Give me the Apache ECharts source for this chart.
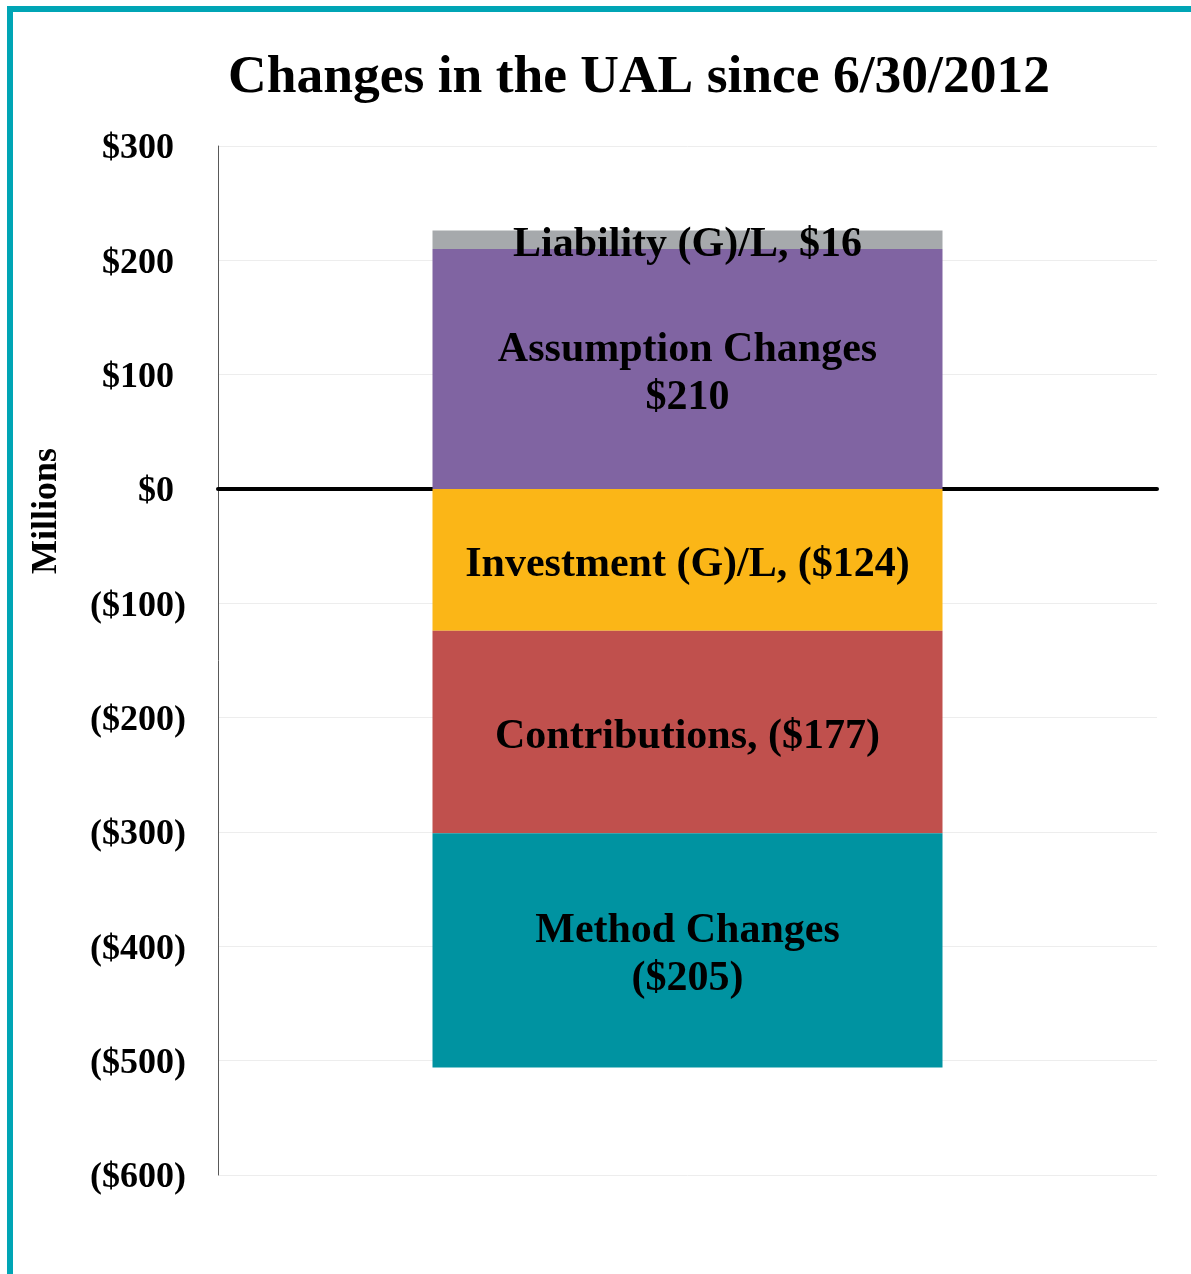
<!DOCTYPE html>
<html>
<head>
<meta charset="utf-8">
<script src="https://cdn.jsdelivr.net/npm/echarts@6/dist/echarts.min.js"></script>
<style>
html,body{margin:0;padding:0;background:#fff;}
#chart{width:1191px;height:1274px;}
</style>
</head>
<body>
<div id="chart"></div>
<script>
const categories = ['UAL'];
const seriesNames = ['Assumption Changes', 'Liability (G)/L', 'Investment (G)/L', 'Contributions', 'Method Changes'];
const assumptionChanges = [210];
const liabilityGL = [16];
const investmentGL = [-124];
const contributions = [-177];
const methodChanges = [-205];
const yTicks = [-600, -500, -400, -300, -200, -100, 0, 100, 200, 300];

const colors = ['#8064A2', '#A6A9AC', '#FBB617', '#C0504D', '#0093A1'];
const FONT = '"Liberation Serif", "Times New Roman", serif';

function money(v) {
  return v < 0 ? '($' + Math.abs(v) + ')' : '$' + v;
}
const labelTemplates = [
  n => 'Assumption Changes\n' + n,
  n => 'Liability (G)/L, ' + n,
  n => 'Investment (G)/L, ' + n,
  n => 'Contributions, ' + n,
  n => 'Method Changes\n' + n
];
const values = [assumptionChanges, liabilityGL, investmentGL, contributions, methodChanges];

const series = values.map((vals, i) => ({
  name: seriesNames[i],
  type: 'bar',
  stack: 'ual',
  barWidth: 510,
  data: vals,
  itemStyle: { color: colors[i] },
  label: {
    show: true,
    position: 'inside',
    offset: [0, 5],
    fontFamily: FONT,
    fontWeight: 'bold',
    fontSize: 42,
    lineHeight: 48,
    color: '#000',
    formatter: p => labelTemplates[i](money(p.value))
  }
}));

const chart = echarts.init(document.getElementById('chart'), null, { renderer: 'canvas' });
chart.setOption({
  animation: false,
  backgroundColor: '#fff',
  title: {
    text: 'Changes in the UAL since 6/30/2012',
    left: 634,
    textAlign: 'center',
    top: 46,
    textStyle: { fontFamily: FONT, fontWeight: 'bold', fontSize: 53.5, color: '#000' }
  },
  grid: { left: 218, right: 34, top: 146, bottom: 99, containLabel: false },
  xAxis: {
    type: 'category',
    data: categories,
    axisLine: { show: true, onZero: true, lineStyle: { color: '#000', width: 4 } },
    axisTick: { show: false },
    axisLabel: { show: false },
    splitLine: { show: false }
  },
  yAxis: {
    type: 'value',
    min: yTicks[0],
    max: yTicks[yTicks.length - 1],
    interval: 100,
    axisLine: { show: true, lineStyle: { color: '#595959', width: 1 } },
    axisTick: { show: false },
    splitLine: { show: true, lineStyle: { color: '#EDEDED', width: 1 } },
    axisLabel: {
      margin: 32,
      formatter: v => v < 0 ? '{a|' + money(v) + '}' : '{a|' + money(v) + '}{h|)}',
      rich: {
        a: { fontFamily: FONT, fontWeight: 'bold', fontSize: 36, color: '#000', padding: [6, 0, 0, 0] },
        h: { fontFamily: FONT, fontWeight: 'bold', fontSize: 36, color: 'rgba(0,0,0,0)', padding: [6, 0, 0, 0] }
      }
    }
  },
  graphic: [
    { type: 'rect', shape: { x: 7, y: 6, width: 1184, height: 6 }, style: { fill: '#00A5B5' }, z: 100 },
    { type: 'rect', shape: { x: 7, y: 6, width: 6, height: 1268 }, style: { fill: '#00A5B5' }, z: 100 },
    {
      type: 'text',
      x: 47, y: 511,
      rotation: Math.PI / 2,
      style: {
        text: 'Millions',
        fontFamily: FONT, fontWeight: 'bold', fontSize: 36, fill: '#000',
        textAlign: 'center', textVerticalAlign: 'middle'
      }
    }
  ],
  series: series
});
</script>
</body>
</html>
